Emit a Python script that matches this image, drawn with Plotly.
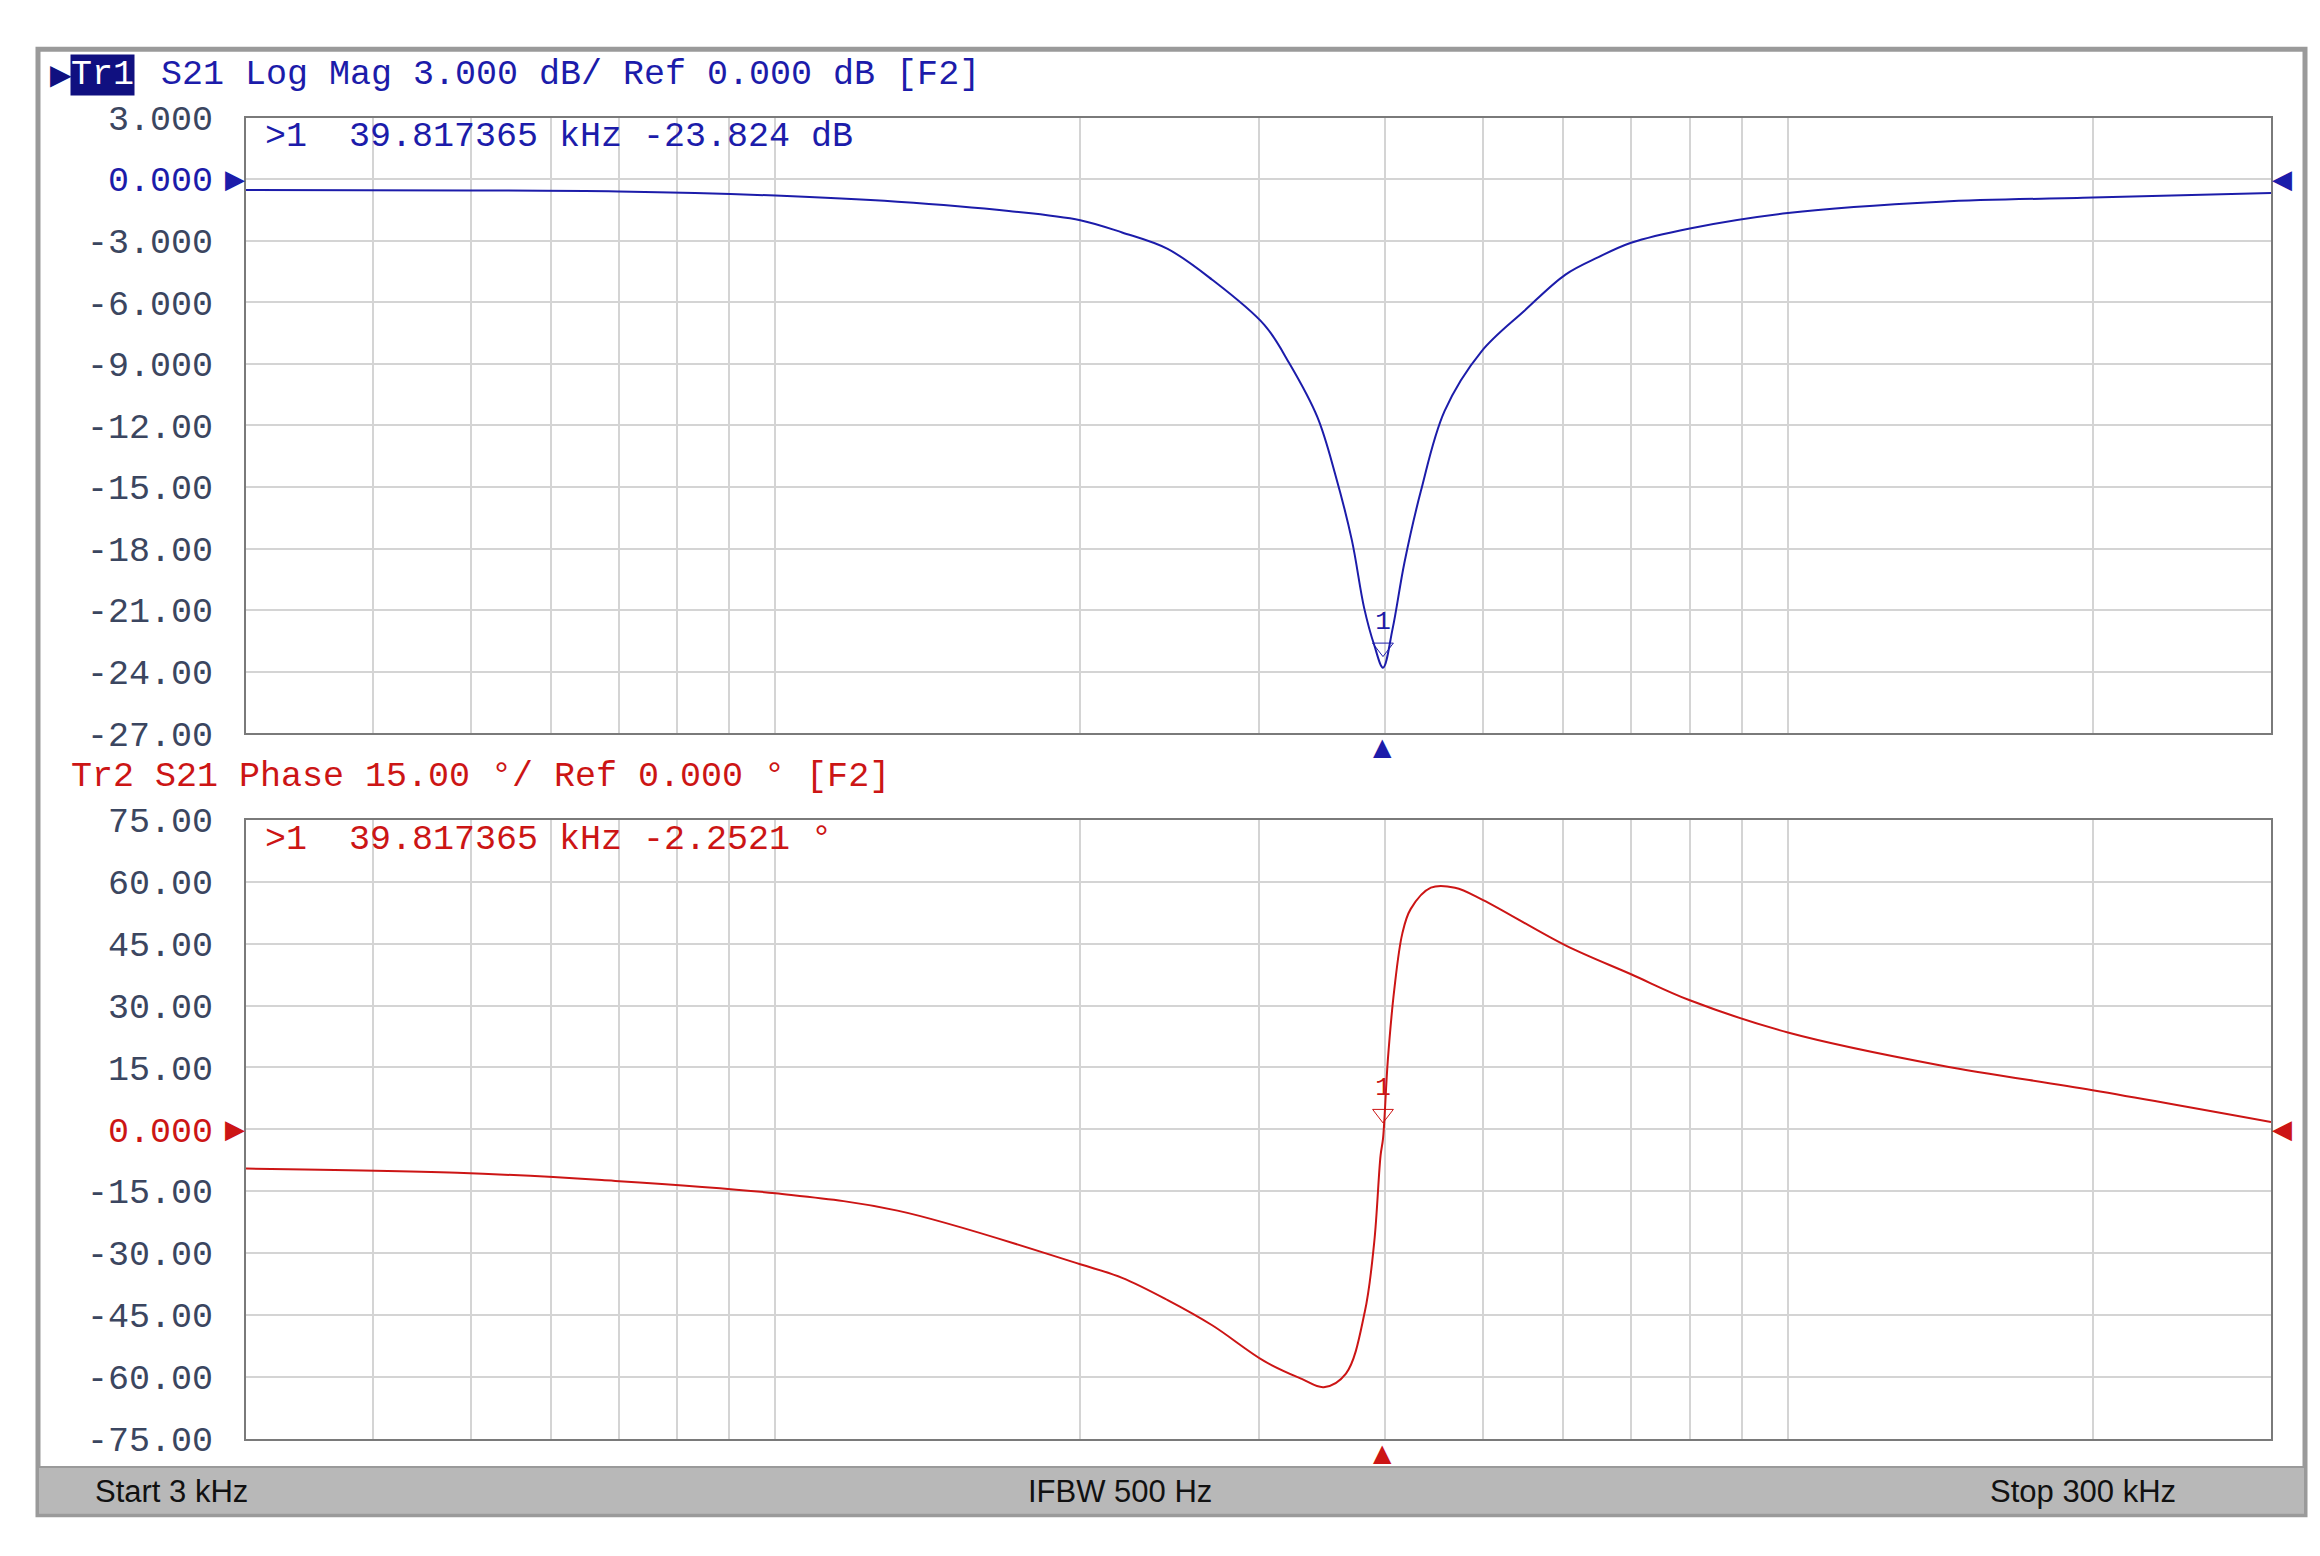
import math
import plotly.graph_objects as go

freq_mag = [3, 5, 7, 10, 13.2, 17, 20, 22, 24.4, 27, 30.4, 32.2, 34.3, 35.75, 37.1, 38.15, 39.03, 39.82,
            40.7, 41.8, 43.4, 45.8, 49.8, 54.96, 60.3, 65, 70, 80, 100, 141.6, 200, 300]
mag_db = [-0.53, -0.55, -0.6, -0.8, -1.1, -1.55, -2.0, -2.6, -3.4, -4.9, -7.1, -9.0, -11.6, -14.45, -17.6, -20.9, -22.7, -23.8,
          -21.9, -18.7, -15.2, -11.3, -8.4, -6.4, -4.65, -3.8, -3.1, -2.4, -1.65, -1.1, -0.9, -0.67]

# S21 phase (trace 2)
freq_ph = [3, 4.85, 6.74, 10, 13.2, 20, 22, 24.4, 27, 30.4, 33.1, 34.8, 36.6, 38.2, 39.03, 39.6, 39.82,
           40.25, 40.85, 41.6, 42.4, 44.4, 46.9, 50, 60.3, 70, 80, 100, 141.6, 200, 300]
phase_deg = [-9.5, -10.5, -12.3, -15.5, -19.7, -32.7, -36.0, -41.4, -47.5, -56.2, -60.5, -62.5, -59.2, -44.3, -27.4, -6.3, -2.25,
             16.5, 33.8, 47.4, 53.4, 58.6, 58.6, 55.6, 44.6, 37.6, 31.3, 23.5, 15.5, 9.5, 1.8]

marker_f = 39.817365
marker_mag = -23.824
marker_ph = -2.2521

grid_f = [4, 5, 6, 7, 8, 9, 10, 20, 30, 40, 50, 60, 70, 80, 90, 100, 200]
mag_ticks = [3, 0, -3, -6, -9, -12, -15, -18, -21, -24, -27]
mag_labels = ["3.000", "0.000", "-3.000", "-6.000", "-9.000", "-12.00", "-15.00",
              "-18.00", "-21.00", "-24.00", "-27.00"]
ph_ticks = [75, 60, 45, 30, 15, 0, -15, -30, -45, -60, -75]
ph_labels = ["75.00", "60.00", "45.00", "30.00", "15.00", "0.000", "-15.00",
             "-30.00", "-45.00", "-60.00", "-75.00"]

W, H = 2320, 1556
BLUE = "#1c1caa"
RED = "#cc1515"
MONO = "Liberation Mono"
TICKC = "#3b4660"

def px(x):
    return x / W

def py(y):
    return 1 - y / H

def colored(labels, ticks, ref, color):
    # reference level label is drawn in the trace colour
    return [f'<span style="color:{color}">{l}</span>' if t == ref else l for l, t in zip(labels, ticks)]

fig = go.Figure()
fig.add_trace(go.Scatter(x=freq_mag, y=mag_db, mode="lines", line=dict(color=BLUE, width=2),
                         line_shape="spline", line_smoothing=1.0, xaxis="x", yaxis="y"))
fig.add_trace(go.Scatter(x=freq_ph, y=phase_deg, mode="lines", line=dict(color=RED, width=2),
                         line_shape="spline", line_smoothing=1.0, xaxis="x2", yaxis="y2"))

# marker symbols on traces
fig.add_trace(go.Scatter(x=[marker_f], y=[marker_mag + 1.0], mode="markers+text",
                         marker=dict(symbol="triangle-down-open", size=18, color=BLUE),
                         text=["1"], textposition="top center",
                         textfont=dict(family=MONO, size=26, color=BLUE),
                         xaxis="x", yaxis="y"))
fig.add_trace(go.Scatter(x=[marker_f], y=[marker_ph + 6], mode="markers+text",
                         marker=dict(symbol="triangle-down-open", size=18, color=RED),
                         text=["1"], textposition="top center",
                         textfont=dict(family=MONO, size=26, color=RED),
                         xaxis="x2", yaxis="y2"))

lo, hi = math.log10(3), math.log10(300)
xdom = [px(238), px(2263)]
xcommon = dict(type="log", range=[lo, hi], domain=xdom, tickvals=grid_f,
               showticklabels=False, showgrid=True, gridcolor="#d4d4d4", gridwidth=2,
               ticks="", showline=True, linecolor="#7a7a7a", linewidth=2, mirror=True,
               zeroline=False)
ycommon = dict(showgrid=True, gridcolor="#d4d4d4", gridwidth=2, ticks="", zeroline=False,
               showline=True, linecolor="#7a7a7a", linewidth=2, mirror=True,
               tickfont=dict(family=MONO, size=35, color=TICKC), ticklabelstandoff=24)

fig.update_layout(
    width=W, height=H, margin=dict(l=0, r=0, t=0, b=0),
    paper_bgcolor="white", plot_bgcolor="white", showlegend=False,
    xaxis=dict(**xcommon, anchor="y"),
    xaxis2=dict(**xcommon, anchor="y2"),
    yaxis=dict(**ycommon, domain=[py(727), py(95)], range=[-27, 3],
               tickvals=mag_ticks, ticktext=colored(mag_labels, mag_ticks, 0, BLUE), anchor="x"),
    yaxis2=dict(**ycommon, domain=[py(1451), py(816)], range=[-75, 75],
                tickvals=ph_ticks, ticktext=colored(ph_labels, ph_ticks, 0, RED), anchor="x2"),
)

shapes = [
    dict(type="rect", xref="paper", yref="paper", x0=px(30), x1=px(2297), y0=py(1529), y1=py(25),
         line=dict(color="#9a9a9a", width=5), layer="below"),
    dict(type="rect", xref="paper", yref="paper", x0=px(30), x1=px(2297), y0=py(1529), y1=py(1480),
         fillcolor="#b8b8b8", line=dict(color="#9a9a9a", width=2)),
]
fig.update_layout(shapes=shapes)

ann = [
    dict(x=px(62), y=py(51), text="Tr1", bgcolor="#101080", font=dict(color="white")),
    dict(x=px(152), y=py(51), text="S21 Log Mag 3.000 dB/ Ref 0.000 dB [F2]", font=dict(color=BLUE)),
    dict(x=px(256), y=py(115), text=">1  39.817365 kHz -23.824 dB", font=dict(color=BLUE)),
    dict(x=px(62), y=py(772), text="Tr2 S21 Phase 15.00 °/ Ref 0.000 ° [F2]", font=dict(color=RED)),
    dict(x=px(256), y=py(836), text=">1  39.817365 kHz -2.2521 °", font=dict(color=RED)),
]
annotations = []
for a in ann:
    f = dict(family=MONO, size=35)
    f.update(a.pop("font"))
    annotations.append(dict(xref="paper", yref="paper", xanchor="left", yanchor="middle",
                            showarrow=False, font=f, borderpad=0, **a))
annotations.append(dict(xref="paper", yref="paper", x=px(40), y=py(51), text="▶", showarrow=False,
                        font=dict(family="DejaVu Sans", size=28, color="#101080"),
                        xanchor="left", yanchor="middle"))

# marker position triangles under the grids, reference level arrows at both sides
mlog = math.log10(marker_f)
for xa, ya, ybot, col in [("x", "y", -27, BLUE), ("x2", "y2", -75, RED)]:
    annotations.append(dict(xref=xa, yref=ya, x=mlog, y=ybot, yshift=-14, text="▲", showarrow=False,
                            font=dict(family="DejaVu Sans", size=24, color=col)))
    annotations.append(dict(xref=xa, yref=ya, x=lo, y=0, xshift=-11, text="▶", showarrow=False,
                            font=dict(family="DejaVu Sans", size=26, color=col)))
    annotations.append(dict(xref=xa, yref=ya, x=hi, y=0, xshift=11, text="◀", showarrow=False,
                            font=dict(family="DejaVu Sans", size=26, color=col)))
for x, t, anc in [(px(85), "Start 3 kHz", "left"), (px(1112), "IFBW 500 Hz", "center"),
                  (px(2170), "Stop 300 kHz", "right")]:
    annotations.append(dict(xref="paper", yref="paper", x=x, y=py(1505), text=t, showarrow=False,
                            xanchor=anc, yanchor="middle",
                            font=dict(family="Liberation Sans", size=31, color="#111111")))
fig.update_layout(annotations=annotations)

fig.write_html("out.html")
